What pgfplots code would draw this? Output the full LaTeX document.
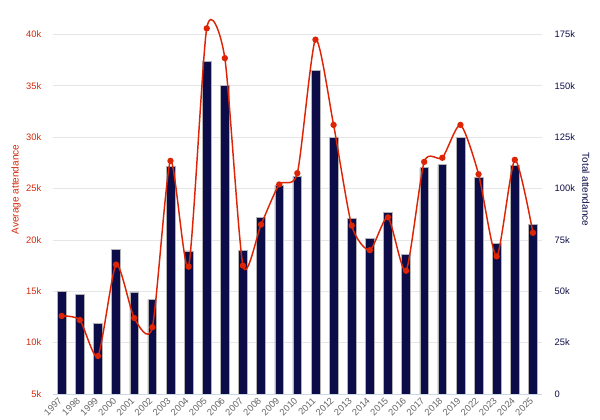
\documentclass[border=0pt]{standalone}
\usepackage{fontspec}
\setmainfont{Liberation Sans}
\usepackage{pgfplots}
\usepackage{pgfplotstable}
\pgfplotsset{compat=1.18}

\definecolor{barnavy}{RGB}{12,12,72}
\definecolor{linered}{RGB}{221,36,4}
\definecolor{leftlab}{RGB}{210,40,10}
\definecolor{gridgrey}{RGB}{230,230,230}
\definecolor{axisline}{RGB}{204,214,235}
\definecolor{ticklab}{RGB}{102,102,102}

% x index, total attendance (thousands), average attendance (thousands)
\pgfplotstableread{
x  total avg
0  50.1  12.6
1  48.5  12.2
2  34.4  8.7
3  70.3  17.6
4  49.7  12.4
5  46.0  11.5
6  110.7 27.7
7  69.7  17.4
8  162.0 40.6
9  150.4 37.7
10 70.0  17.5
11 85.9  21.5
12 101.6 25.4
13 106.0 26.5
14 157.7 39.5
15 124.9 31.2
16 85.4  21.4
17 75.8  19.0
18 88.6  22.2
19 67.9  17.0
20 110.2 27.6
21 111.6 28.0
22 124.9 31.2
23 105.5 26.4
24 73.2  18.4
25 111.2 27.8
26 82.5  20.7
}\attendance

\pgfplotsset{
  twin/.style={
    at={(39.5pt,19.5pt)}, anchor=south west,
    scale only axis, width=367pt, height=269.6pt,
    xmin=-0.5, xmax=26.5,
    major tick length=0pt,
    ticklabel style={font=\fontsize{7}{8}\selectfont},
    label style={font=\fontsize{7.5}{9}\selectfont},
  },
}

\begin{document}
\begin{tikzpicture}
\useasboundingbox (0,0) rectangle (450pt,315pt);

% bars: total attendance, right axis
\begin{axis}[
  twin,
  ymin=0, ymax=175,
  axis x line*=bottom, axis y line*=right,
  y axis line style={draw=none},
  x axis line style={draw=axisline},
  xtick={0,...,26},
  xticklabels={1997,1998,1999,2000,2001,2002,2003,2004,2005,2006,2007,2008,2009,2010,2011,2012,2013,2014,2015,2016,2017,2018,2019,2022,2023,2024,2025},
  x tick label style={rotate=45, anchor=east, text=ticklab, yshift=-2pt},
  ytick={0,25,...,175},
  yticklabels={0,25k,50k,75k,100k,125k,150k,175k},
  y tick label style={text=barnavy},
  yticklabel shift=6pt,
  ymajorgrids, grid style={gridgrey, line width=0.6pt},
  ylabel={Total attendance},
  ylabel style={text=barnavy, rotate=180, at={(axis description cs:1.09,0.569)}, anchor=center},
]
\addplot[ybar, bar width=6.6pt, fill=barnavy, draw=gray!60, line width=0.4pt]
  table[x=x, y=total] {\attendance};
\end{axis}

% line: average attendance, left axis
\begin{axis}[
  twin,
  ymin=5, ymax=40,
  axis x line=none, axis y line*=left,
  y axis line style={draw=none},
  ytick={5,10,...,40},
  yticklabels={5k,10k,15k,20k,25k,30k,35k,40k},
  y tick label style={text=leftlab},
  yticklabel shift=5pt,
  clip=false,
  ylabel={Average attendance},
  ylabel style={text=leftlab, at={(axis description cs:-0.075,0.569)}, anchor=center},
]
\addplot[linered, line width=1.1pt, smooth, tension=0.4,
  mark=*, mark size=1.8pt, mark options={fill=linered, draw=linered}]
  table[x=x, y=avg] {\attendance};
\end{axis}
\end{tikzpicture}
\end{document}
